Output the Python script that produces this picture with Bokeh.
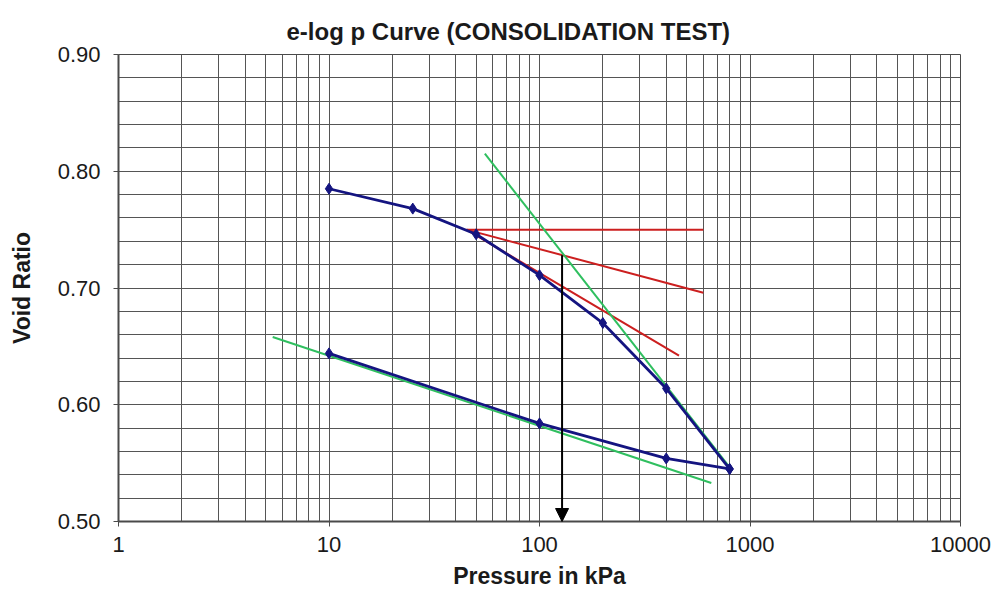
from bokeh.plotting import figure
from bokeh.models import (LogTicker, SingleIntervalTicker, PrintfTickFormatter,
                          Arrow, NormalHead, Range1d)
from bokeh.embed import file_html
from bokeh.resources import INLINE

# ---- data ----
load_p = [10, 25, 50, 100, 200, 400, 800]
load_e = [0.785, 0.768, 0.746, 0.711, 0.670, 0.614, 0.545]
unload_p = [800, 400, 100, 10]
unload_e = [0.545, 0.554, 0.584, 0.644]

# Casagrande construction lines
red_h_p = [45, 600]
red_h_e = [0.750, 0.750]
red_t_p = [45, 600]
red_t_e = [0.750, 0.696]
red_b_p = [45, 460]
red_b_e = [0.750, 0.642]

green_vc_p = [55, 820]
green_vc_e = [0.815, 0.544]
green_rc_p = [5.4, 655]
green_rc_e = [0.658, 0.533]

arrow_p = 128
arrow_e = [0.728, 0.500]

FONT = "Liberation Sans"
BLUE = "#141480"
RED = "#cc1f1f"
GREEN = "#2fbf5f"

p = figure(width=994, height=593, x_axis_type="log",
           x_range=Range1d(1, 10000), y_range=Range1d(0.5, 0.9),
           title="e-log p Curve (CONSOLIDATION TEST)",
           output_backend="svg", toolbar_location=None,
           min_border_left=118, min_border_right=34,
           min_border_top=54, min_border_bottom=72)

p.title.align = "left"
p.title.offset = 168
p.title.text_font = FONT
p.title.text_font_size = "24px"
p.title.text_font_style = "bold"
p.title.text_color = "#1a1a1a"
p.title.standoff = 20

# axes
p.xaxis.ticker = LogTicker(desired_num_ticks=5, num_minor_ticks=10, mantissas=[1])
p.xaxis.formatter = PrintfTickFormatter(format="%d")
p.yaxis.ticker = SingleIntervalTicker(interval=0.1, num_minor_ticks=5)
p.yaxis.formatter = PrintfTickFormatter(format="%.2f")

for ax in (p.xaxis[0], p.yaxis[0]):
    ax.major_label_text_font = FONT
    ax.major_label_text_font_size = "22px"
    ax.major_label_text_color = "#1a1a1a"
    ax.axis_label_text_font = FONT
    ax.axis_label_text_font_size = "23px"
    ax.axis_label_text_font_style = "bold"
    ax.axis_label_text_color = "#1a1a1a"
    ax.axis_line_color = "#4a4a4a"
    ax.axis_line_width = 2
    ax.major_tick_line_color = "#4a4a4a"
    ax.major_tick_out = 5
    ax.major_tick_in = 0
    ax.minor_tick_line_color = None

p.xaxis.axis_label = "Pressure in kPa"
p.yaxis.axis_label = "Void Ratio"
p.xaxis.major_label_standoff = 10
p.yaxis.major_label_standoff = 13
p.xaxis.axis_label_standoff = 8
p.yaxis.axis_label_standoff = 20

for g in (p.xgrid[0], p.ygrid[0]):
    g.grid_line_color = "#555555"
    g.grid_line_width = 1
    g.minor_grid_line_color = "#555555"
    g.minor_grid_line_width = 1

p.outline_line_color = "#4a4a4a"
p.outline_line_width = 1

# construction lines
p.line(red_h_p, red_h_e, line_color=RED, line_width=2)
p.line(red_t_p, red_t_e, line_color=RED, line_width=2)
p.line(red_b_p, red_b_e, line_color=RED, line_width=2)
p.line(green_vc_p, green_vc_e, line_color=GREEN, line_width=2)
p.line(green_rc_p, green_rc_e, line_color=GREEN, line_width=2)

# test curve
p.line(load_p, load_e, line_color=BLUE, line_width=2.8)
p.line(unload_p, unload_e, line_color=BLUE, line_width=2.8)
p.scatter(load_p, load_e, marker="diamond", size=11, color=BLUE)
p.scatter(unload_p, unload_e, marker="diamond", size=11, color=BLUE)

# arrow to preconsolidation pressure
p.add_layout(Arrow(end=NormalHead(size=13, fill_color="black", line_color="black"),
                   x_start=arrow_p, y_start=arrow_e[0],
                   x_end=arrow_p, y_end=arrow_e[1],
                   line_color="black", line_width=2))

open("out.html", "w").write(file_html(p, INLINE))
